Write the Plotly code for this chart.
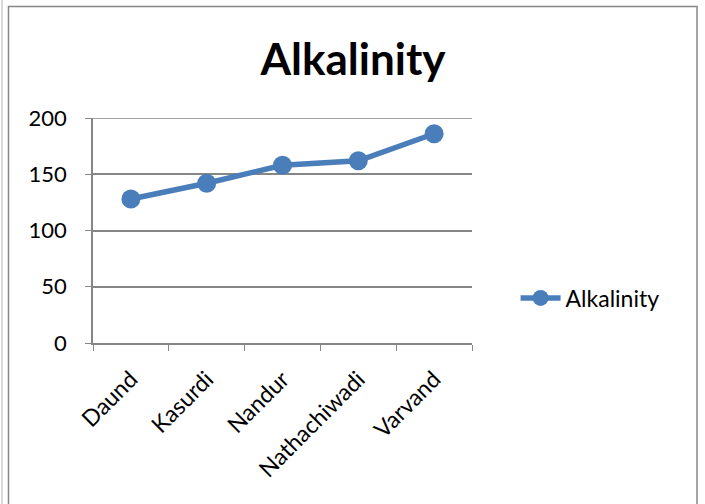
import plotly.graph_objects as go

# Alkalinity by sampling site
sites = ["Daund", "Kasurdi", "Nandur", "Nathachiwadi", "Varvand"]
alkalinity = [128, 142, 158, 162, 186]
y_ticks = [0, 50, 100, 150, 200]

blue = "#4A7EBB"
grey = "#868686"
font_family = "Lato, 'Open Sans', 'Liberation Sans', sans-serif"

fig = go.Figure()
fig.add_trace(go.Scatter(
    x=sites,
    y=alkalinity,
    mode="lines+markers",
    name="Alkalinity",
    line=dict(color=blue, width=5.5),
    marker=dict(color=blue, size=19),
))

fig.update_layout(
    width=705,
    height=504,
    margin=dict(l=93, r=233, t=118, b=161),
    paper_bgcolor="white",
    plot_bgcolor="white",
    font=dict(family=font_family, color="black", size=22),
    title=dict(
        text="<b>Alkalinity</b>",
        x=353 / 705,
        xanchor="center",
        y=1 - 60 / 504,
        yanchor="middle",
        font=dict(size=44, family=font_family, color="black"),
    ),
    showlegend=True,
    legend=dict(
        x=1.115,
        y=0.2,
        xanchor="left",
        yanchor="middle",
        font=dict(size=23, family=font_family),
        bgcolor="rgba(0,0,0,0)",
        itemwidth=40,
    ),
    xaxis=dict(
        type="category",
        tickson="boundaries",
        ticks="outside",
        ticklen=6,
        tickcolor=grey,
        showline=True,
        linecolor=grey,
        linewidth=1.5,
        showgrid=False,
        tickangle=-45,
        range=[-0.5, 4.5],
        tickfont=dict(size=23),
        ticklabelstandoff=12,
    ),
    yaxis=dict(
        range=[0, 200],
        tickvals=y_ticks,
        ticks="outside",
        ticklen=6,
        tickcolor=grey,
        showline=True,
        linecolor=grey,
        linewidth=1.5,
        showgrid=True,
        gridcolor=grey,
        gridwidth=1.5,
        zeroline=False,
        tickfont=dict(size=22),
        ticklabelstandoff=14,
    ),
)

# top gridline at the axis maximum
fig.add_shape(
    type="line",
    xref="paper", yref="y",
    x0=0, x1=1, y0=y_ticks[-1], y1=y_ticks[-1],
    line=dict(color=grey, width=1.5),
    layer="below",
)

# chart frame
fig.add_shape(
    type="rect",
    xref="paper", yref="paper",
    x0=(8.5 - 93) / 379, x1=(697 - 93) / 379,
    y0=(343 - 520) / 225, y1=(343 - 6.5) / 225,
    line=dict(color=grey, width=1.5),
    layer="below",
)
fig.add_shape(
    type="line",
    xref="paper", yref="paper",
    x0=(2 - 93) / 379, x1=(2 - 93) / 379,
    y0=(343 - 520) / 225, y1=(343 - 0) / 225,
    line=dict(color="#cccccc", width=1.5),
    layer="below",
)

fig.write_html("out.html")
